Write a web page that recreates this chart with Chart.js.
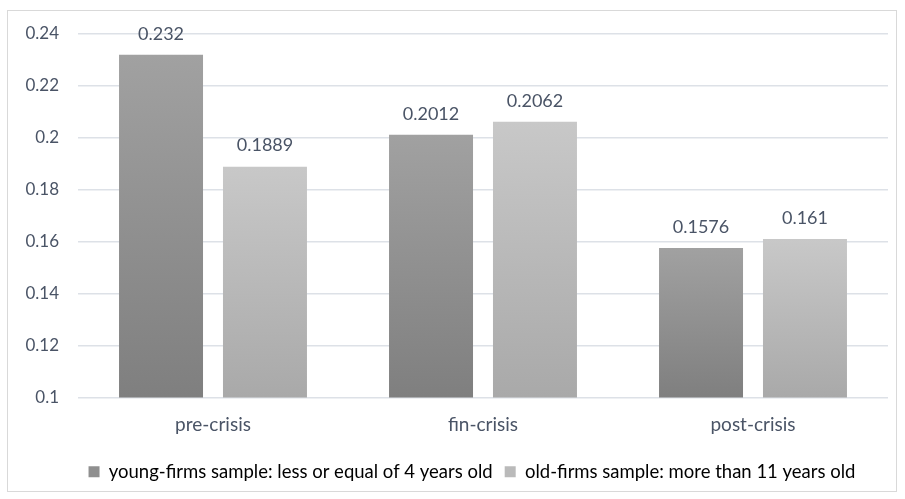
<!DOCTYPE html>
<html>
<head>
<meta charset="utf-8">
<script src="https://cdn.jsdelivr.net/npm/chart.js@4.4.1/dist/chart.umd.min.js"></script>
<style>
  html, body { margin: 0; padding: 0; background: #ffffff; }
  #wrap { position: relative; width: 905px; height: 499px; }
</style>
</head>
<body>
<div id="wrap"><canvas id="chart" width="905" height="499"></canvas></div>
<script>
// Periods on the category axis
const categories = ['pre-crisis', 'fin-crisis', 'post-crisis'];

// Series names
const seriesNames = [
  'young-firms sample: less or equal of 4 years old',
  'old-firms sample: more than 11 years old'
];

// Series values
const youngFirms = [0.232, 0.2012, 0.1576];
const oldFirms = [0.1889, 0.2062, 0.161];

// Value axis ticks
const yTicks = [0.1, 0.12, 0.14, 0.16, 0.18, 0.2, 0.22, 0.24];

const FONT = 'Lato, "Open Sans", sans-serif';
const TEXT = '#4a5466';

// Vertical gradient for each bar, from its top down to the axis base
function barGradient(top, bottom) {
  return function (ctx) {
    const chart = ctx.chart;
    if (!chart.chartArea || ctx.type !== 'data') return bottom;
    const y = chart.scales.y;
    const v = ctx.raw;
    const yTop = y.getPixelForValue(v);
    const yBase = y.getPixelForValue(y.min);
    if (!isFinite(yTop) || !isFinite(yBase) || yTop === yBase) return bottom;
    const g = chart.ctx.createLinearGradient(0, yTop, 0, yBase);
    g.addColorStop(0, top);
    g.addColorStop(1, bottom);
    return g;
  };
}

// Light frame around the whole chart
const framePlugin = {
  id: 'frame',
  beforeDraw(chart) {
    const c = chart.ctx;
    c.save();
    c.strokeStyle = '#d9d9d9';
    c.lineWidth = 1;
    c.strokeRect(7.5, 10.5, 889, 481);
    c.restore();
  }
};

// Centre the legend row under the plot area rather than the whole canvas
const legendOffset = {
  id: 'legendOffset',
  afterLayout(chart) {
    if (chart.legend) chart.legend.left += 56;
  }
};

// Value labels above every bar
const valueLabels = {
  id: 'valueLabels',
  afterDatasetsDraw(chart) {
    const c = chart.ctx;
    c.save();
    c.font = '18px ' + FONT;
    c.fillStyle = TEXT;
    c.textAlign = 'center';
    c.textBaseline = 'middle';
    chart.data.datasets.forEach((ds, i) => {
      chart.getDatasetMeta(i).data.forEach((bar, j) => {
        c.fillText(String(ds.data[j]), bar.x, bar.y - 21);
      });
    });
    c.restore();
  }
};

new Chart(document.getElementById('chart'), {
  type: 'bar',
  data: {
    labels: categories,
    datasets: [
      {
        label: seriesNames[0],
        data: youngFirms,
        backgroundColor: barGradient('#a1a1a1', '#7f7f7f')
      },
      {
        label: seriesNames[1],
        data: oldFirms,
        backgroundColor: barGradient('#c8c8c8', '#a9a9a9')
      }
    ]
  },
  options: {
    responsive: false,
    animation: false,
    categoryPercentage: 0.77,
    barPercentage: 0.808,
    layout: { padding: { top: 34, right: 17, bottom: 8, left: 0 } },
    scales: {
      x: {
        grid: { display: false, drawTicks: false },
        border: { display: false },
        ticks: { color: TEXT, font: { family: FONT, size: 19 }, padding: 16 },
        afterFit(scale) { scale.height = 53; }
      },
      y: {
        min: yTicks[0],
        max: yTicks[yTicks.length - 1],
        afterBuildTicks(scale) { scale.ticks = yTicks.map(v => ({ value: v })); },
        grid: { color: '#dde1e7', lineWidth: 1.5, drawTicks: false },
        border: { display: false },
        ticks: {
          color: TEXT,
          font: { family: FONT, size: 17 },
          padding: 19,
          callback: v => String(Number(v.toFixed(2)))
        },
        afterFit(scale) { scale.width = 78; }
      }
    },
    plugins: {
      legend: {
        position: 'bottom',
        labels: {
          color: TEXT,
          font: { family: FONT, size: 18.5 },
          boxWidth: 11,
          boxHeight: 11,
          padding: 12,
          generateLabels(chart) {
            const fills = ['#8f8f8f', '#bababa'];
            return chart.data.datasets.map((ds, i) => ({
              text: ds.label,
              fillStyle: fills[i],
              strokeStyle: fills[i],
              lineWidth: 0,
              datasetIndex: i,
              hidden: false
            }));
          }
        }
      },
      tooltip: { enabled: false }
    }
  },
  plugins: [framePlugin, legendOffset, valueLabels]
});
</script>
</body>
</html>
